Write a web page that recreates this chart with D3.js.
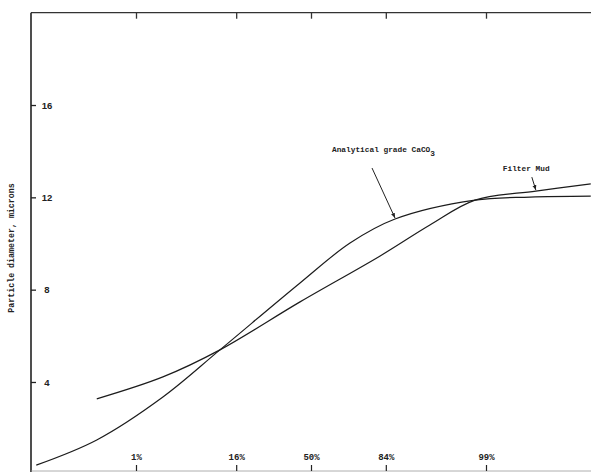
<!DOCTYPE html>
<html>
<head>
<meta charset="utf-8">
<script src="https://cdn.jsdelivr.net/npm/d3@7"></script>
<style>
  body{margin:0;background:#fff;}
  svg{display:block;}
  .mono{font-family:"Liberation Mono","DejaVu Sans Mono",monospace;font-weight:bold;fill:#222;}
</style>
</head>
<body>
<div id="chart"></div>
<script>
// cumulative percent (probability scale) vs particle diameter in microns
let probTicks = [1, 16, 50, 84, 99];
let diamTicks = [4, 8, 12, 16];

let analyticalPct  = [0.013, 0.22, 2.45, 11.3, 44.2, 69.8, 86.8, 98.54, 99.82, 99.99];
let analyticalDiam = [0.40, 1.49, 3.35, 5.39, 8.29, 10.02, 11.06, 11.88, 12.01, 12.05];

let filterMudPct  = [0.22, 2.45, 11.3, 44.2, 82.1, 94.3, 98.54, 99.86, 99.99];
let filterMudDiam = [3.27, 4.22, 5.39, 7.47, 9.46, 10.80, 11.88, 12.27, 12.58];

let W = 591, H = 472;

//inverse normal cdf (Acklam) so the x axis behaves like probability paper
let probit = (p) => {
  let a = [-39.69683028665376, 220.9460984245205, -275.9285104469687, 138.3577518672690, -30.66479806614716, 2.506628277459239];
  let b = [-54.47609879822406, 161.5858368580409, -155.6989798598866, 66.80131188771972, -13.28068155288572];
  let c = [-0.007784894002430293, -0.3223964580411365, -2.400758277161838, -2.549732539343734, 4.374664141464968, 2.938163982698783];
  let d = [0.007784695709041462, 0.3224671290700398, 2.445134137142996, 3.754408661907416];
  let lo = 0.02425, q, r;
  if(p < lo){
    q = Math.sqrt(-2*Math.log(p));
    return (((((c[0]*q+c[1])*q+c[2])*q+c[3])*q+c[4])*q+c[5]) / ((((d[0]*q+d[1])*q+d[2])*q+d[3])*q+1);
  }
  if(p > 1-lo){
    q = Math.sqrt(-2*Math.log(1-p));
    return -(((((c[0]*q+c[1])*q+c[2])*q+c[3])*q+c[4])*q+c[5]) / ((((d[0]*q+d[1])*q+d[2])*q+d[3])*q+1);
  }
  q = p - 0.5; r = q*q;
  return (((((a[0]*r+a[1])*r+a[2])*r+a[3])*r+a[4])*r+a[5])*q / (((((b[0]*r+b[1])*r+b[2])*r+b[3])*r+b[4])*r+1);
}

let zScale = d3.scaleLinear().domain([probit(0.01), probit(0.99)]).range([136, 486]);
let x = (pct) => zScale(probit(pct/100));
let y = d3.scaleLinear().domain([0, 20]).range([474.3, 12.7]);

let plotLeft = 31, plotTop = y(20), plotBottom = 471;

let svg = d3.select("#chart").append("svg").attr("width", W).attr("height", H);

// frame lines
svg.append("line").attr("x1", plotLeft).attr("x2", W).attr("y1", plotTop).attr("y2", plotTop)
  .attr("stroke", "#333").attr("stroke-width", 1.3);
svg.append("line").attr("x1", plotLeft).attr("x2", plotLeft).attr("y1", plotTop).attr("y2", H)
  .attr("stroke", "#222").attr("stroke-width", 1.6);
svg.append("line").attr("x1", plotLeft).attr("x2", W).attr("y1", plotBottom).attr("y2", plotBottom)
  .attr("stroke", "#999").attr("stroke-width", 0.8);

// top ticks, pointing down
let xAxisTop = d3.axisBottom(zScale).tickValues(probTicks.map(p => probit(p/100)))
  .tickSize(6).tickSizeOuter(0).tickFormat("");
svg.append("g").attr("transform", `translate(0,${plotTop})`).call(xAxisTop)
  .call(g => g.select(".domain").remove())
  .call(g => g.selectAll("line").attr("stroke", "#333").attr("stroke-width", 1.3));

// bottom ticks with percent labels inside the plot
let xAxisBottom = d3.axisTop(zScale).tickValues(probTicks.map(p => probit(p/100)))
  .tickSize(6).tickSizeOuter(0).tickPadding(5)
  .tickFormat((z, i) => probTicks[i] + "%");
svg.append("g").attr("transform", `translate(0,${plotBottom})`).call(xAxisBottom)
  .call(g => g.select(".domain").remove())
  .call(g => g.selectAll("line").attr("stroke", "#222").attr("stroke-width", 1.2))
  .call(g => g.selectAll("text").attr("class", "mono").attr("font-size", 9));

// left ticks, pointing inward
let yAxis = d3.axisRight(y).tickValues(diamTicks).tickSize(5).tickSizeOuter(0);
svg.append("g").attr("transform", `translate(${plotLeft},0)`).call(yAxis)
  .call(g => g.select(".domain").remove())
  .call(g => g.selectAll("line").attr("stroke", "#222").attr("stroke-width", 1.3))
  .call(g => g.selectAll("text").attr("x", 16).attr("text-anchor", "middle")
    .attr("font-family", "'Liberation Sans', Arial, sans-serif").attr("font-size", 9.5)
    .attr("font-weight", "bold").attr("fill", "#222"));

svg.append("text").attr("class", "mono").attr("font-size", 8.3)
  .attr("transform", "translate(14,248) rotate(-90)").attr("text-anchor", "middle")
  .text("Particle diameter, microns");

// curves
let line = d3.line().x(d => x(d[0])).y(d => y(d[1])).curve(d3.curveCatmullRom.alpha(0.5));
let analytical = d3.zip(analyticalPct, analyticalDiam);
let filterMud = d3.zip(filterMudPct, filterMudDiam);

[analytical, filterMud].forEach((s) => {
  svg.append("path").datum(s).attr("d", line)
    .attr("fill", "none").attr("stroke", "#1c1c1c").attr("stroke-width", 1.2);
});

// arrows and labels
svg.append("defs").append("marker").attr("id", "head")
  .attr("viewBox", "0 0 10 10").attr("refX", 10).attr("refY", 5)
  .attr("markerWidth", 5).attr("markerHeight", 5).attr("orient", "auto")
  .append("path").attr("d", "M0,1L10,5L0,9Z").attr("fill", "#222");

let tipA = analytical[6], tipF = filterMud[7];
svg.append("line")
  .attr("x1", x(tipA[0]) - 23).attr("y1", y(tipA[1]) - 51)
  .attr("x2", x(tipA[0])).attr("y2", y(tipA[1]) - 1)
  .attr("stroke", "#222").attr("stroke-width", 1).attr("marker-end", "url(#head)");
svg.append("line")
  .attr("x1", x(tipF[0]) - 4).attr("y1", y(tipF[1]) - 14)
  .attr("x2", x(tipF[0])).attr("y2", y(tipF[1]) - 1)
  .attr("stroke", "#222").attr("stroke-width", 1).attr("marker-end", "url(#head)");

let labA = svg.append("text").attr("class", "mono").attr("font-size", 7.8)
  .attr("x", x(tipA[0]) - 63).attr("y", y(tipA[1]) - 67);
labA.append("tspan").text("Analytical grade CaCO");
labA.append("tspan").attr("dy", 3.5).text("3");

svg.append("text").attr("class", "mono").attr("font-size", 7.8)
  .attr("x", x(tipF[0]) - 33).attr("y", y(tipF[1]) - 20)
  .text("Filter Mud");
</script>
</body>
</html>
